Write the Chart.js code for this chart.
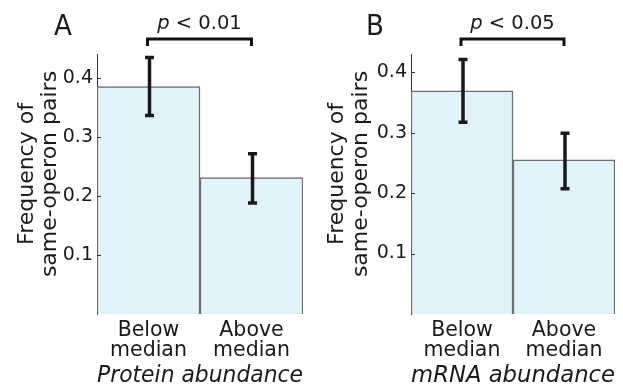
<!DOCTYPE html>
<html>
<head>
<meta charset="utf-8">
<script src="https://cdn.jsdelivr.net/npm/chart.js@4.4.1/dist/chart.umd.min.js"></script>
<style>
  html, body { margin: 0; padding: 0; background: #fff; }
  #wrap { position: relative; width: 623px; height: 388px; }
  canvas { position: absolute; top: 0; }
  #chartA { left: 0; }
  #chartB { left: 311px; }
</style>
</head>
<body>
<div id="wrap">
  <canvas id="chartA" width="311" height="388"></canvas>
  <canvas id="chartB" width="312" height="388"></canvas>
</div>
<script>
// ===== data =====
const categories = [["Below", "median"], ["Above", "median"]];
const yTicks = [0.1, 0.2, 0.3, 0.4];

// panel A - protein abundance
const proteinFreq = [0.385, 0.231];
const proteinLow = [0.336, 0.188];
const proteinHigh = [0.434, 0.271];

// panel B - mRNA abundance
const mrnaFreq = [0.369, 0.255];
const mrnaLow = [0.317, 0.207];
const mrnaHigh = [0.421, 0.299];

const yTitle = ["Frequency of", "same-operon pairs"];

const SANS = "'DejaVu Sans', 'Liberation Sans', Arial, sans-serif";

// error bars, inward ticks, y title, panel letter and significance bracket
const extrasPlugin = {
  id: "extras",
  afterDatasetsDraw(chart, args, opts) {
    const c = chart.ctx;
    const xs = chart.scales.x;
    const ys = chart.scales.y;
    const area = chart.chartArea;

    c.save();
    // small inward ticks on the y axis
    c.strokeStyle = "#333";
    c.lineWidth = 1;
    ys.ticks.forEach(t => {
      const y = Math.round(ys.getPixelForValue(t.value)) + 0.5;
      c.beginPath();
      c.moveTo(area.left, y);
      c.lineTo(area.left + 4, y);
      c.stroke();
    });

    // error bars
    c.strokeStyle = "#1a1a1a";
    c.lineWidth = 3.5;
    c.lineCap = "butt";
    opts.low.forEach((lo, i) => {
      const x = xs.getPixelForValue(i) + 1;
      const yLo = ys.getPixelForValue(lo);
      const yHi = ys.getPixelForValue(opts.high[i]);
      c.beginPath();
      c.moveTo(x, yLo);
      c.lineTo(x, yHi);
      c.moveTo(x - 4.5, yLo);
      c.lineTo(x + 4.5, yLo);
      c.moveTo(x - 4.5, yHi);
      c.lineTo(x + 4.5, yHi);
      c.stroke();
    });

    // significance bracket
    const x0 = xs.getPixelForValue(0) - 1;
    const x1 = xs.getPixelForValue(1);
    const by = area.top - 15;
    c.lineWidth = 3;
    c.strokeStyle = "#111";
    c.beginPath();
    c.moveTo(x0, by + 7);
    c.lineTo(x0, by);
    c.lineTo(x1, by);
    c.lineTo(x1, by + 7);
    c.stroke();

    // p-value text
    c.fillStyle = "#1a1a1a";
    c.textBaseline = "alphabetic";
    const italic = "oblique 19.5px " + SANS;
    const normal = "19.5px " + SANS;
    c.font = italic;
    const wp = c.measureText("p").width;
    c.font = normal;
    const rest = " < " + opts.p;
    const wr = c.measureText(rest).width;
    const tx = (x0 + x1) / 2 - (wp + wr) / 2;
    c.font = italic;
    c.fillText("p", tx, 29);
    c.font = normal;
    c.fillText(rest, tx + wp, 29);

    // y axis title, two lines, rotated
    c.save();
    c.translate(0, 174);
    c.rotate(-Math.PI / 2);
    c.textAlign = "center";
    c.font = "22px " + SANS;
    c.fillText(yTitle[0], 0, opts.titleX[0]);
    c.fillText(yTitle[1], 0, opts.titleX[1]);
    c.restore();

    // panel letter
    c.font = "29px 'Liberation Sans Narrow', 'DejaVu Sans Condensed', sans-serif";
    c.textAlign = "center";
    c.fillText(opts.letter, opts.letterX, 35);
    c.restore();
  }
};

function makePanel(id, values, low, high, yMax, axisX, titleX, xTitle, letter, letterX, pText) {
  const ctx = document.getElementById(id).getContext("2d");
  return new Chart(ctx, {
    type: "bar",
    data: {
      labels: categories,
      datasets: [{
        data: values,
        backgroundColor: "#e1f3fa",
        borderColor: "#6e6e6e",
        borderWidth: 1.5,
        categoryPercentage: 1,
        barPercentage: 1
      }]
    },
    options: {
      responsive: false,
      animation: false,
      devicePixelRatio: 1,
      layout: { padding: { top: 54, left: 0, right: 8, bottom: 0 } },
      plugins: {
        legend: { display: false },
        tooltip: { enabled: false },
        extras: { low: low, high: high, p: pText, letter: letter, letterX: letterX, titleX: titleX }
      },
      scales: {
        x: {
          grid: { display: false, drawTicks: false },
          border: { display: false },
          ticks: {
            color: "#1a1a1a",
            padding: 7,
            font: { family: SANS, size: 20.5, lineHeight: 0.98 }
          },
          title: {
            display: true,
            text: xTitle,
            color: "#1a1a1a",
            padding: { top: 0, bottom: 0 },
            font: { family: SANS, size: 23, style: "oblique", lineHeight: 1.05 }
          },
          afterFit(scale) { scale.height = 74; }
        },
        y: {
          min: 0,
          max: yMax,
          grid: { display: false, drawTicks: false },
          border: { display: true, color: "#333", width: 1 },
          afterBuildTicks(scale) {
            scale.ticks = yTicks.map(v => ({ value: v }));
          },
          ticks: {
            color: "#1a1a1a",
            padding: 4,
            font: { family: SANS, size: 19 },
            callback: v => v.toFixed(1)
          },
          title: { display: false },
          afterFit(scale) { scale.width = axisX; }
        }
      }
    },
    plugins: [extrasPlugin]
  });
}

makePanel("chartA", proteinFreq, proteinLow, proteinHigh, 0.44, 97, [33, 56],
  "Protein abundance", "A", 63, "0.01");
makePanel("chartB", mrnaFreq, mrnaLow, mrnaHigh, 0.43, 100, [32, 56],
  "mRNA abundance", "B", 64, "0.05");
</script>
</body>
</html>
